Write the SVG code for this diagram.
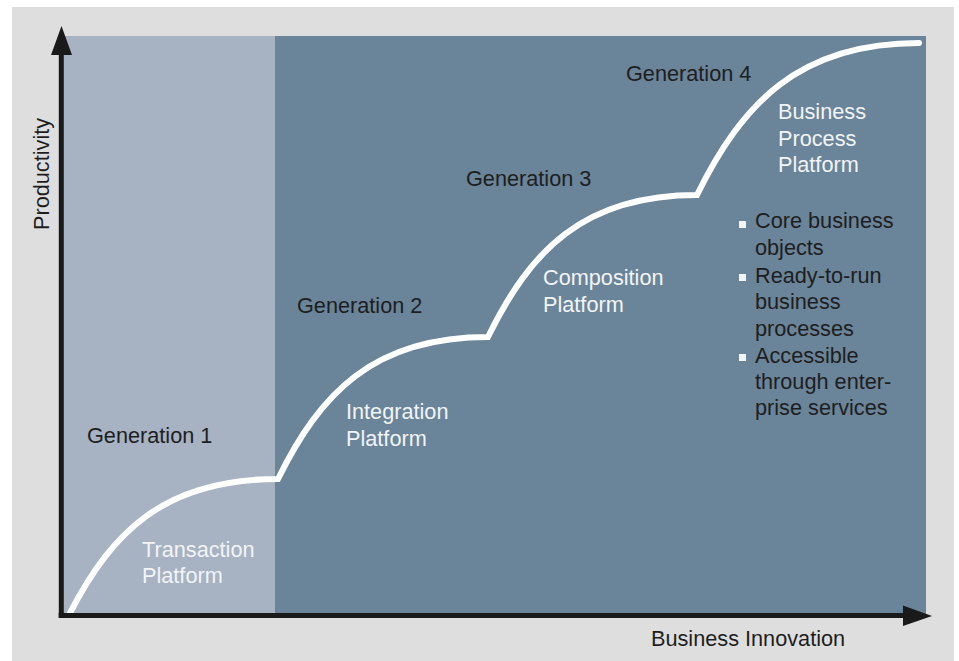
<svg xmlns="http://www.w3.org/2000/svg" width="959" height="661" viewBox="0 0 959 661">
<defs>
<style>
.t{font-family:"Liberation Sans",Arial,sans-serif;font-size:21.7px}
.d{fill:#1e1e1e}
.w{fill:#f2f4f6}
.ax{stroke:#1a1a1a;stroke-width:5;fill:none}
.ah{fill:#1a1a1a}
.b{fill:#f4f4f4}
</style>
</defs>
<rect x="0" y="0" width="959" height="661" fill="#ffffff"/>
<rect x="12" y="7" width="942" height="654" fill="#dedede"/>
<g id="panel-gen1"><rect x="62" y="36" width="213" height="578" fill="#a7b2c3"/></g>
<g id="panel-gen2-4"><rect x="275" y="36" width="651" height="578" fill="#6a8499"/></g>
<g id="curve">
<path d="M70,613 C111.6,532.6 163.6,479 278,479 C320,393.8 372.5,337 488,337 C529.8,251.8 582,195 697,195 C742,104 798,43 919,43" fill="none" stroke="#ffffff" stroke-width="6" stroke-linejoin="miter" stroke-linecap="round"/>
</g>
<g id="connectors">
<line class="ax" x1="61.3" y1="618" x2="61.3" y2="52"/>
<polygon class="ah" points="61.5,26 51,55 72,55"/>
<line class="ax" x1="58.7" y1="615.5" x2="905" y2="615.5"/>
<polygon class="ah" points="932,616 903,605.5 903,626"/>
</g>
<g id="axis-y"><text class="t d" transform="translate(48.5,230) rotate(-90)">Productivity</text></g>
<g id="axis-x"><text class="t d" x="651" y="646">Business Innovation</text></g>
<g id="gen1">
<text class="t d" x="87" y="443">Generation 1</text>
<text class="t w" x="142" y="557">Transaction</text>
<text class="t w" x="142" y="583">Platform</text>
</g>
<g id="gen2">
<text class="t d" x="297" y="313">Generation 2</text>
<text class="t w" x="346" y="419">Integration</text>
<text class="t w" x="346" y="446">Platform</text>
</g>
<g id="gen3">
<text class="t d" x="466" y="186">Generation 3</text>
<text class="t w" x="543" y="285">Composition</text>
<text class="t w" x="543" y="312">Platform</text>
</g>
<g id="gen4">
<text class="t d" x="626" y="81">Generation 4</text>
<text class="t w" x="778" y="119">Business</text>
<text class="t w" x="778" y="146">Process</text>
<text class="t w" x="778" y="172">Platform</text>
<rect class="b" x="739" y="221" width="7" height="7"/>
<rect class="b" x="739" y="274" width="7" height="7"/>
<rect class="b" x="739" y="354" width="7" height="7"/>
<text class="t d" x="755" y="228">Core business</text>
<text class="t d" x="755" y="255">objects</text>
<text class="t d" x="755" y="283">Ready-to-run</text>
<text class="t d" x="755" y="309">business</text>
<text class="t d" x="755" y="336">processes</text>
<text class="t d" x="755" y="363">Accessible</text>
<text class="t d" x="755" y="389">through enter-</text>
<text class="t d" x="755" y="415">prise services</text>
</g>
</svg>
